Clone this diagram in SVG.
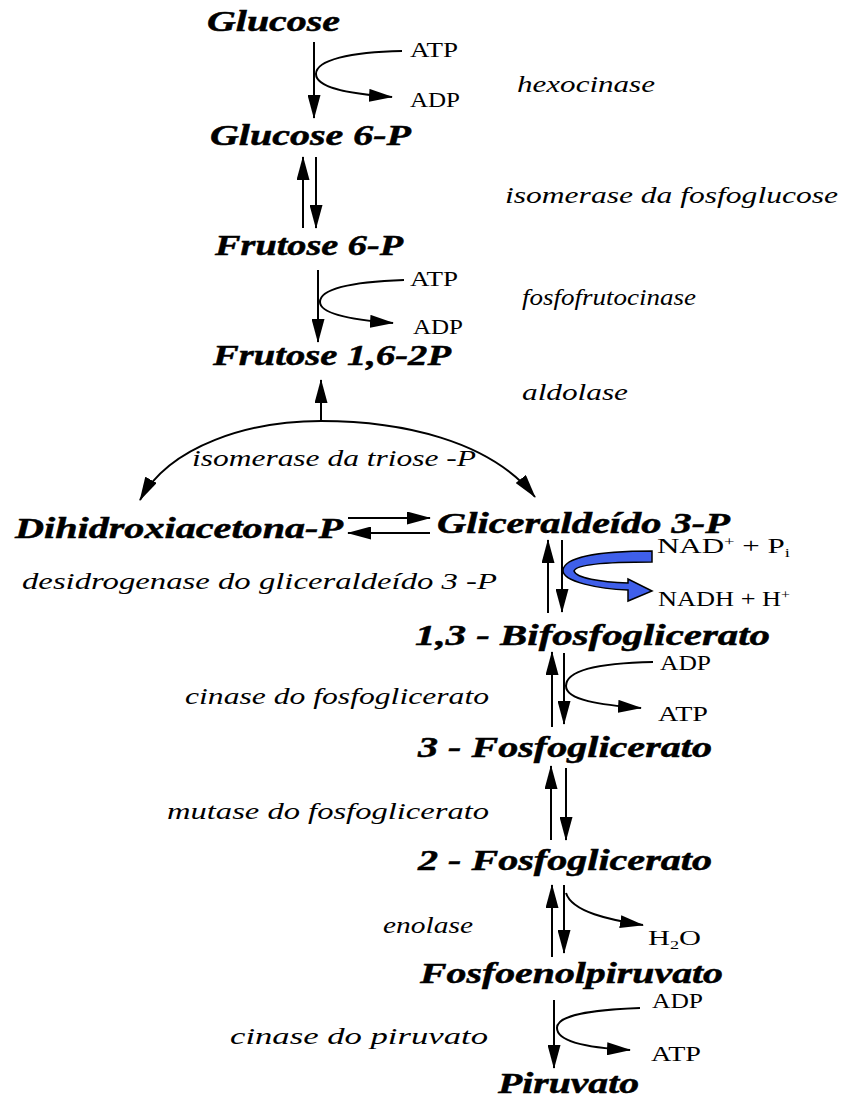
<svg xmlns="http://www.w3.org/2000/svg" width="844" height="1103" viewBox="0 0 844 1103">
<style>
text { font-family: "Liberation Serif", "Times New Roman", serif; fill: #000; }
.m { font-weight: bold; font-style: italic; font-size: 30px; stroke: #000; stroke-width: 0.5; }
.e { font-style: italic; font-size: 23px; }
.c { font-size: 20px; }
.ln { fill: none; stroke: #000; stroke-width: 2; }
.ar { marker-end: url(#ah); }
.blue { fill: #3F5FEA; stroke: #000; stroke-width: 1.5; }
</style>
<defs>
<marker id="ah" viewBox="0 0 24 13" refX="23" refY="6.5" markerWidth="24" markerHeight="13" markerUnits="userSpaceOnUse" orient="auto">
<path d="M0,0 L24,6.5 L0,13 Z" fill="#000"/>
</marker>
</defs>
<rect width="844" height="1103" fill="#fff"/>

<g id="connectors">
<!-- Glucose -> Glucose 6-P -->
<line class="ln ar" x1="314" y1="42" x2="314" y2="118"/>
<path class="ln ar" d="M402,51 C350,52 316,60 316,74 C316,88 350,94 392,97"/>
<!-- G6P <-> F6P -->
<line class="ln ar" x1="303" y1="228" x2="303" y2="157"/>
<line class="ln ar" x1="316" y1="157" x2="316" y2="228"/>
<!-- F6P -> F1,6-2P -->
<line class="ln ar" x1="318" y1="270" x2="318" y2="342"/>
<path class="ln ar" d="M404,280 C350,282 320,289 320,302 C320,314 352,320 393,323"/>
<!-- aldolase -->
<line class="ln ar" x1="321" y1="421" x2="321" y2="380"/>
<path class="ln ar" d="M321,421 C250,421 170,445 140,500"/>
<path class="ln ar" d="M321,421 C400,421 490,440 535,497"/>
<!-- DHAP <-> GAP -->
<line class="ln ar" x1="348" y1="518" x2="430" y2="518"/>
<line class="ln ar" x1="430" y1="533" x2="348" y2="533"/>
<!-- GAP <-> 1,3-BPG -->
<line class="ln ar" x1="548" y1="613" x2="548" y2="540"/>
<line class="ln ar" x1="562" y1="540" x2="562" y2="612"/>
<path class="blue" d="M652,551 C600,551 565,557 563,570 C562,582 600,589 628,590 L628,601 L652,591 L628,579 L628,583 C600,582 576,578 574,571 C576,564 610,562 652,562 Z"/>
<!-- 1,3-BPG <-> 3PG -->
<line class="ln ar" x1="552" y1="727" x2="552" y2="652"/>
<line class="ln ar" x1="564" y1="653" x2="564" y2="724"/>
<path class="ln ar" d="M653,662 C600,663 566,670 566,686 C566,700 600,705 641,708"/>
<!-- 3PG <-> 2PG -->
<line class="ln ar" x1="551" y1="840" x2="551" y2="766"/>
<line class="ln ar" x1="566" y1="768" x2="566" y2="840"/>
<!-- 2PG <-> PEP -->
<line class="ln ar" x1="552" y1="957" x2="552" y2="885"/>
<line class="ln ar" x1="564" y1="885" x2="564" y2="953"/>
<path class="ln ar" d="M566,893 C572,912 610,920 643,925"/>
<!-- PEP -> Piruvato -->
<line class="ln ar" x1="554" y1="1000" x2="554" y2="1068"/>
<path class="ln ar" d="M640,1008 C590,1010 557,1015 557,1028 C557,1042 590,1048 630,1050"/>
</g>

<g id="n-glucose"><text class="m" x="207" y="31" textLength="133" lengthAdjust="spacingAndGlyphs">Glucose</text></g>
<g id="n-g6p"><text class="m" x="210" y="145" textLength="201" lengthAdjust="spacingAndGlyphs">Glucose 6-P</text></g>
<g id="n-f6p"><text class="m" x="215" y="255" textLength="188" lengthAdjust="spacingAndGlyphs">Frutose 6-P</text></g>
<g id="n-f16bp"><text class="m" x="213" y="365" textLength="238" lengthAdjust="spacingAndGlyphs">Frutose 1,6-2P</text></g>
<g id="n-dhap"><text class="m" x="15" y="538" textLength="328" lengthAdjust="spacingAndGlyphs">Dihidroxiacetona-P</text></g>
<g id="n-gap"><text class="m" x="437" y="533" textLength="293" lengthAdjust="spacingAndGlyphs">Gliceraldeído 3-P</text></g>
<g id="n-bpg"><text class="m" x="415" y="645" textLength="355" lengthAdjust="spacingAndGlyphs">1,3 - Bifosfoglicerato</text></g>
<g id="n-3pg"><text class="m" x="418" y="757" textLength="294" lengthAdjust="spacingAndGlyphs">3 - Fosfoglicerato</text></g>
<g id="n-2pg"><text class="m" x="418" y="870" textLength="294" lengthAdjust="spacingAndGlyphs">2 - Fosfoglicerato</text></g>
<g id="n-pep"><text class="m" x="420" y="983" textLength="303" lengthAdjust="spacingAndGlyphs">Fosfoenolpiruvato</text></g>
<g id="n-pyr"><text class="m" x="498" y="1093" textLength="141" lengthAdjust="spacingAndGlyphs">Piruvato</text></g>

<g id="enzymes">
<text class="e" x="517" y="92" textLength="138" lengthAdjust="spacingAndGlyphs">hexocinase</text>
<text class="e" x="505" y="203" textLength="333" lengthAdjust="spacingAndGlyphs">isomerase da fosfoglucose</text>
<text class="e" x="522" y="305" textLength="174" lengthAdjust="spacingAndGlyphs">fosfofrutocinase</text>
<text class="e" x="522" y="400" textLength="106" lengthAdjust="spacingAndGlyphs">aldolase</text>
<text class="e" x="192" y="466" textLength="284" lengthAdjust="spacingAndGlyphs">isomerase da triose -P</text>
<text class="e" x="22" y="589" textLength="475" lengthAdjust="spacingAndGlyphs">desidrogenase do gliceraldeído 3 -P</text>
<text class="e" x="185" y="704" textLength="304" lengthAdjust="spacingAndGlyphs">cinase do fosfoglicerato</text>
<text class="e" x="167" y="819" textLength="322" lengthAdjust="spacingAndGlyphs">mutase do fosfoglicerato</text>
<text class="e" x="383" y="933" textLength="90" lengthAdjust="spacingAndGlyphs">enolase</text>
<text class="e" x="230" y="1044" textLength="258" lengthAdjust="spacingAndGlyphs">cinase do piruvato</text>
</g>

<g id="cofactors">
<text class="c" x="410" y="57" textLength="48" lengthAdjust="spacingAndGlyphs">ATP</text>
<text class="c" x="410" y="107" textLength="50" lengthAdjust="spacingAndGlyphs">ADP</text>
<text class="c" x="410" y="286" textLength="48" lengthAdjust="spacingAndGlyphs">ATP</text>
<text class="c" x="413" y="334" textLength="50" lengthAdjust="spacingAndGlyphs">ADP</text>
<text class="c" x="657" y="553" textLength="133" lengthAdjust="spacingAndGlyphs">NAD<tspan font-size="12" dy="-7">+</tspan><tspan dy="7"> + P</tspan><tspan font-size="12" dy="4">i</tspan></text>
<text class="c" x="658" y="606" textLength="132" lengthAdjust="spacingAndGlyphs">NADH + H<tspan font-size="12" dy="-7">+</tspan></text>
<text class="c" x="660" y="670" textLength="51" lengthAdjust="spacingAndGlyphs">ADP</text>
<text class="c" x="658" y="721" textLength="50" lengthAdjust="spacingAndGlyphs">ATP</text>
<text class="c" x="648" y="945" textLength="53" lengthAdjust="spacingAndGlyphs">H<tspan font-size="12" dy="4">2</tspan><tspan dy="-4">O</tspan></text>
<text class="c" x="652" y="1008" textLength="51" lengthAdjust="spacingAndGlyphs">ADP</text>
<text class="c" x="651" y="1061" textLength="50" lengthAdjust="spacingAndGlyphs">ATP</text>
</g>
</svg>
